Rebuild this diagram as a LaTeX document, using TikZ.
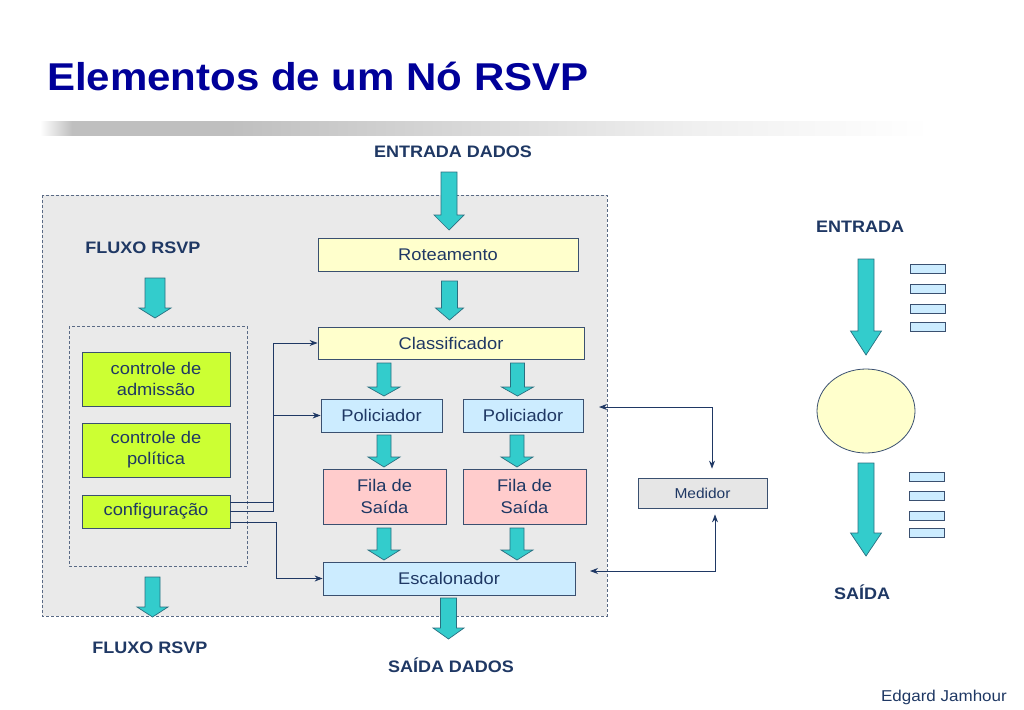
\documentclass[tikz,border=0pt]{standalone}
\usepackage{fontspec}
\setmainfont{Liberation Sans}
\usetikzlibrary{arrows.meta,calc}
\definecolor{titleblue}{HTML}{000099}
\definecolor{navy}{HTML}{1F3864}
\definecolor{tealfill}{HTML}{33CCCC}
\definecolor{tealdark}{HTML}{2A6F80}
\definecolor{boxline}{HTML}{3A5070}
\definecolor{ylw}{HTML}{FFFFCC}
\definecolor{lblue}{HTML}{CCECFF}
\definecolor{pinkq}{HTML}{FFCCCC}
\definecolor{limeq}{HTML}{CCFF33}
\definecolor{panel}{HTML}{EAEAEA}
\definecolor{dashc}{HTML}{5A6A85}
\definecolor{medfill}{HTML}{E6E6E6}
\pgfdeclarehorizontalshading{barshade}{100bp}{color(0bp)=(white); color(25bp)=(white); color(26.75bp)=(gray!50); color(35.5bp)=(gray!50); color(47.5bp)=(gray!32); color(61bp)=(gray!12); color(74bp)=(white); color(100bp)=(white)}
\newcommand{\blockarr}[6]{%
  \filldraw[barrow] (#1-#2,#4) -- (#1+#2,#4) -- (#1+#2,#5) -- (#1+#3,#5) -- (#1,#6) -- (#1-#3,#5) -- (#1-#2,#5) -- cycle;}
\tikzset{
  barrow/.style={fill=tealfill, draw=tealdark, line width=0.7pt, line join=miter},
  bx/.style n args={2}{draw=boxline, line width=0.8pt, yscale=0.923, inner sep=0pt,
    align=center, text=navy, font=\fontsize{18.3}{23}\selectfont,
    minimum width=#1pt, minimum height={#2pt/0.923}},
  lbl/.style={anchor=base, text=navy, yscale=0.923, font=\bfseries\fontsize{18}{21}\selectfont},
  conn/.style={draw=navy, line width=0.9pt, -{Stealth[length=8pt,width=6pt]}},
  conn2/.style={draw=navy, line width=0.9pt, {Stealth[length=8pt,width=6pt]}-{Stealth[length=8pt,width=6pt]}},
  panelbox/.style={draw=dashc, line width=0.7pt, dash pattern=on 3pt off 2pt},
  smallr/.style={fill=lblue, draw=boxline, line width=0.8pt}
}
\begin{document}
\begin{tikzpicture}[x=1pt,y=-1pt]
\useasboundingbox (0,0) rectangle (1024,709);
% title
\node[anchor=base west, text=titleblue, yscale=0.923, font=\bfseries\fontsize{42}{42}\selectfont, inner sep=0pt] (title) at (47,90) {Elementos de um Nó RSVP};
\shade[shading=barshade] (40,121) rectangle (948,135);
% panels
\filldraw[panelbox, fill=panel] (42,195) rectangle (607,616);
\draw[panelbox] (69,326) rectangle (247,566);
% labels
\node[lbl] (lin) at (453,157) {ENTRADA DADOS};
\node[lbl] (lf1) at (143,253) {FLUXO RSVP};
\node[lbl] (lf2) at (150,653) {FLUXO RSVP};
\node[lbl] (lout) at (451,672) {SAÍDA DADOS};
\node[lbl] (lent) at (860,232) {ENTRADA};
\node[lbl] (lsai) at (862,599) {SAÍDA};
\node[anchor=base east, text=navy, yscale=0.923, font=\fontsize{17}{19}\selectfont, inner sep=0pt] (auth) at (1007,701) {Edgard Jamhour};
% boxes
\node[bx={260}{33}, fill=ylw] (rot) at (448,254.5) {Roteamento};
\node[bx={266}{32}, fill=ylw] (cls) at (451,343) {Classificador};
\node[bx={121}{33}, fill=lblue] (pol1) at (381.5,415.5) {Policiador};
\node[bx={120}{33}, fill=lblue] (pol2) at (523,415.5) {Policiador};
\node[bx={123}{55}, fill=pinkq] (fila1) at (384.5,496.5) {Fila de\\Saída};
\node[bx={123}{55}, fill=pinkq] (fila2) at (524.5,496.5) {Fila de\\Saída};
\node[bx={252}{33}, fill=lblue] (esc) at (449,578.5) {Escalonador};
\node[bx={148}{54}, fill=limeq] (adm) at (156,379) {controle de\\admissão};
\node[bx={148}{54}, fill=limeq] (polit) at (156,450) {controle de\\política};
\node[bx={148}{33}, fill=limeq] (cfg) at (156,511.5) {configuração};
\node[bx={129}{30}, fill=medfill, font=\fontsize{15.5}{18}\selectfont] (med) at (702.5,493) {Medidor};
% block arrows
\blockarr{449}{8}{15}{172}{215}{230}
\blockarr{155}{10}{16}{278}{308}{318}
\blockarr{449.5}{8}{14}{281}{308}{320}
\blockarr{384}{7}{16}{363}{387}{396}
\blockarr{517.5}{7}{16}{363}{387}{396}
\blockarr{384}{7}{16}{435}{457}{467}
\blockarr{517}{7}{16}{435}{457}{467}
\blockarr{384}{7}{16}{528}{550}{560}
\blockarr{517}{7}{16}{528}{550}{560}
\blockarr{448.5}{8}{15.5}{598}{628}{639}
\blockarr{152.5}{7.5}{15.5}{577}{607}{617}
\blockarr{866}{8}{15.5}{259}{331}{355}
\blockarr{866}{8}{15.5}{463}{533}{556}
% connectors
\draw[conn] ([yshift=9.5pt]cfg.east) -- ++(43,0) |- (cls.west);
\draw[conn] (cfg.east) -- ++(43,0) |- (pol1.west);
\draw[conn] ([yshift=-10.5pt]cfg.east) -- ++(46,0) |- (esc.west);
\coordinate (mt) at (599,407);
\coordinate (mb) at (590,571);
\draw[conn2, shorten >=9pt] (mt) -| ([xshift=9.5pt]med.north);
\draw[conn2, shorten >=6pt] (mb) -| ([xshift=12.5pt]med.south);
% right side
\draw[fill=ylw, draw=boxline, line width=0.8pt] (866,411) ellipse [x radius=49, y radius=42];
\foreach \yy in {264,284,304,322} \draw[smallr] (910,\yy) rectangle (945,\yy+9);
\foreach \yy in {472,491,511,528} \draw[smallr] (909,\yy) rectangle (944,\yy+9);
\end{tikzpicture}
\end{document}
